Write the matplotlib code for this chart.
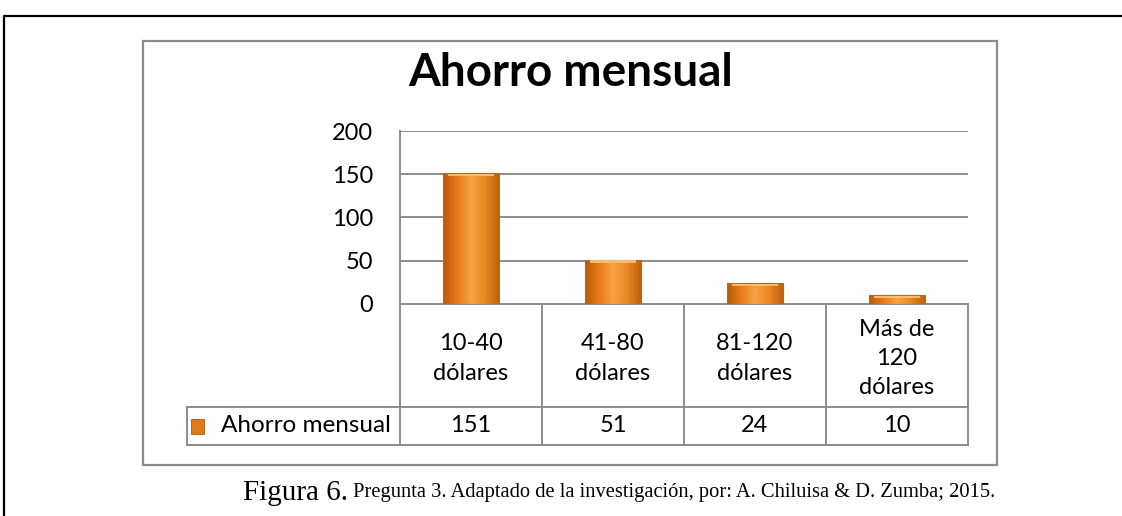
import numpy as np
import matplotlib
matplotlib.use("Agg")
import matplotlib.pyplot as plt
from matplotlib.colors import LinearSegmentedColormap
from matplotlib.patches import Rectangle

plt.rcParams['font.family'] = ['Lato', 'DejaVu Sans']

# data
title = "Ahorro mensual"
series_name = "Ahorro mensual"
categories = ["10-40\ndólares", "41-80\ndólares", "81-120\ndólares", "Más de\n120\ndólares"]
values = [151, 51, 24, 10]
yticks = [0, 50, 100, 150, 200]
caption_head = "Figura 6."
caption_rest = " Pregunta 3. Adaptado de la investigación, por: A. Chiluisa & D. Zumba; 2015."

W, H = 1122, 516
fig = plt.figure(figsize=(W / 100, H / 100), dpi=100)

# overlay axes in pixel coordinates (y down)
ov = fig.add_axes([0, 0, 1, 1])
ov.set_xlim(0, W)
ov.set_ylim(H, 0)
ov.axis('off')

# outer page frame
ov.plot([4, 4, W + 5], [H + 5, 16, 16], color='black', lw=1.6, solid_capstyle='butt')
# chart area box
ov.add_patch(Rectangle((143, 41), 854, 424, fill=False, ec='#8c8c8c', lw=1.6))

ov.text(571, 73, title, ha='center', va='center', fontsize=33, fontweight='bold')

# plot area
px0, px1 = 400, 968
py0, py1 = 131, 304
ax = fig.add_axes([px0 / W, 1 - py1 / H, (px1 - px0) / W, (py1 - py0) / H])
ax.set_xlim(0, len(values))
ax.set_ylim(0, 200)
for s in ax.spines.values():
    s.set_visible(False)
ax.spines['left'].set_visible(True)
ax.spines['left'].set_color('#8c8c8c')
ax.spines['left'].set_linewidth(1.4)
ax.set_xticks([])
ax.set_yticks(yticks)
ax.tick_params(axis='y', length=0, pad=19.5, labelsize=17)
ax.grid(axis='y', color='#8c8c8c', lw=1.4)
ax.set_axisbelow(True)

cmap = LinearSegmentedColormap.from_list(
    'bar', ['#b85a08', '#e87c18', '#f5a246', '#e98a22', '#c0620c'])
grad = np.linspace(0, 1, 64).reshape(1, -1)
bw = 0.39
for i, v in enumerate(values):
    x0 = i + 0.5 - bw / 2
    im = ax.imshow(grad, cmap=cmap, aspect='auto', extent=(x0, x0 + bw, 0, v), zorder=3)
    r = Rectangle((x0, 0), bw, v, fc='none', ec='#b86a1a', lw=0.8, zorder=4)
    ax.add_patch(r)
    im.set_clip_path(r)
    # light cap at the top
    ax.add_patch(Rectangle((x0 + bw * 0.08, v - 3.2), bw * 0.84, 2.6,
                           fc='#fbc27a', ec='none', alpha=0.9, zorder=5))
ax.set_xlim(0, len(values))
ax.set_ylim(0, 200)

# data table below plot
gray = '#8c8c8c'
cell_w = (px1 - px0) / len(values)
r0, r1, r2 = 304, 407, 445
tx0 = 187
ov.plot([px0, px1], [r0, r0], color=gray, lw=1.4)
ov.plot([tx0, px1], [r1, r1], color=gray, lw=1.4)
ov.plot([tx0, px1], [r2, r2], color=gray, lw=1.4)
ov.plot([tx0, tx0], [r1, r2], color=gray, lw=1.4)
for k in range(len(values) + 1):
    xx = px0 + k * cell_w
    ov.plot([xx, xx], [r0, r2], color=gray, lw=1.4)

for k, (c, v) in enumerate(zip(categories, values)):
    cx = px0 + (k + 0.5) * cell_w
    ov.text(cx, (r0 + r1) / 2 + 3, c, ha='center', va='center', fontsize=17, linespacing=1.5)
    ov.text(cx, (r1 + r2) / 2, str(v), ha='center', va='center', fontsize=17)

# legend key
key = Rectangle((191, 419), 13, 15, fc='#e07a18', ec='#a85a10', lw=0.6)
ov.add_patch(key)
ov.text(221, (r1 + r2) / 2, series_name, ha='left', va='center', fontsize=17.5)

# caption
cap = ov.text(243, 493, caption_head, ha='left', va='center', fontsize=21,
              family='Liberation Serif')
ov.annotate(caption_rest, xy=(1, 0.5), xycoords=cap, ha='left', va='center',
            fontsize=14.8, family='Liberation Serif')

fig.savefig('out.png', dpi=100)
